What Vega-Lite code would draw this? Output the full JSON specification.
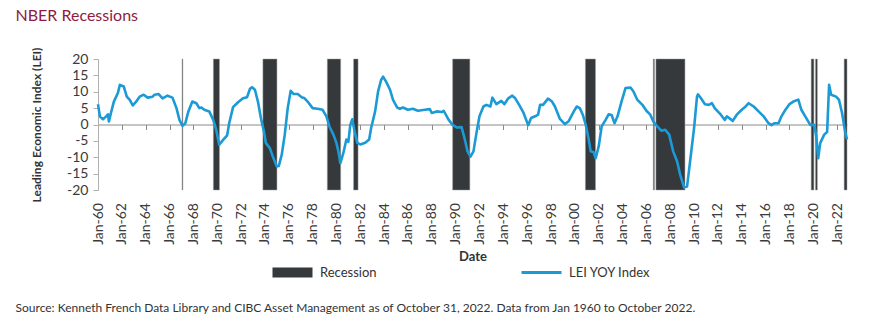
{
  "$schema": "https://vega.github.io/schema/vega-lite/v6.json",
  "padding": {"left": 15, "top": 8, "right": 5, "bottom": 8},
  "background": "white",
  "title": {"text": "Source: Kenneth French Data Library and CIBC Asset Management as of October 31, 2022. Data from Jan 1960 to October 2022.", "orient": "bottom", "anchor": "start", "frame": "bounds", "font": "Lato", "fontSize": 12, "fontWeight": "normal", "color": "#333333", "offset": 23},
  "datasets": {
    "lei": [
      {"date": "1960-01-01", "lei": 6.2}, {"date": "1960-03-01", "lei": 2.4}, {"date": "1960-06-01", "lei": 1.6}, {"date": "1960-09-01", "lei": 2.4}, {"date": "1960-11-01", "lei": 3.1}, {"date": "1960-12-01", "lei": 0.9},
      {"date": "1961-02-01", "lei": 3.5}, {"date": "1961-05-01", "lei": 7.0}, {"date": "1961-09-01", "lei": 9.6}, {"date": "1961-11-01", "lei": 12.1},
      {"date": "1962-03-01", "lei": 11.6}, {"date": "1962-06-01", "lei": 8.5}, {"date": "1962-09-01", "lei": 7.5}, {"date": "1962-12-01", "lei": 5.8},
      {"date": "1963-03-01", "lei": 6.8}, {"date": "1963-07-01", "lei": 8.5}, {"date": "1963-11-01", "lei": 9.1},
      {"date": "1964-03-01", "lei": 8.2}, {"date": "1964-08-01", "lei": 8.5}, {"date": "1964-10-01", "lei": 9.1},
      {"date": "1965-02-01", "lei": 9.3}, {"date": "1965-06-01", "lei": 8.0}, {"date": "1965-11-01", "lei": 8.8},
      {"date": "1966-04-01", "lei": 8.2}, {"date": "1966-08-01", "lei": 5.0}, {"date": "1966-11-01", "lei": 1.4},
      {"date": "1967-02-01", "lei": -0.4}, {"date": "1967-05-01", "lei": 0.4}, {"date": "1967-08-01", "lei": 4.0}, {"date": "1967-12-01", "lei": 7.0},
      {"date": "1968-04-01", "lei": 6.5}, {"date": "1968-07-01", "lei": 5.0}, {"date": "1968-09-01", "lei": 5.2}, {"date": "1968-12-01", "lei": 4.5},
      {"date": "1969-05-01", "lei": 4.0}, {"date": "1969-09-01", "lei": 1.4}, {"date": "1969-12-01", "lei": -1.6},
      {"date": "1970-03-01", "lei": -6.2}, {"date": "1970-07-01", "lei": -4.7}, {"date": "1970-11-01", "lei": -3.3},
      {"date": "1971-01-01", "lei": 0.3}, {"date": "1971-05-01", "lei": 5.3}, {"date": "1971-10-01", "lei": 6.8},
      {"date": "1972-03-01", "lei": 8.0}, {"date": "1972-07-01", "lei": 8.3}, {"date": "1972-10-01", "lei": 10.9}, {"date": "1972-12-01", "lei": 11.4},
      {"date": "1973-03-01", "lei": 10.6}, {"date": "1973-06-01", "lei": 7.0}, {"date": "1973-09-01", "lei": 1.9}, {"date": "1973-12-01", "lei": -2.1},
      {"date": "1974-02-01", "lei": -5.7}, {"date": "1974-06-01", "lei": -7.2}, {"date": "1974-09-01", "lei": -9.8},
      {"date": "1975-01-01", "lei": -12.8}, {"date": "1975-03-01", "lei": -12.7}, {"date": "1975-06-01", "lei": -9.2}, {"date": "1975-09-01", "lei": -3.1}, {"date": "1975-12-01", "lei": 5.0},
      {"date": "1976-03-01", "lei": 10.3}, {"date": "1976-06-01", "lei": 9.3}, {"date": "1976-10-01", "lei": 9.3},
      {"date": "1977-02-01", "lei": 8.3}, {"date": "1977-05-01", "lei": 8.0}, {"date": "1977-08-01", "lei": 7.0},
      {"date": "1978-01-01", "lei": 5.0}, {"date": "1978-06-01", "lei": 4.8}, {"date": "1978-11-01", "lei": 4.5},
      {"date": "1979-03-01", "lei": 2.5}, {"date": "1979-06-01", "lei": -0.6}, {"date": "1979-10-01", "lei": -3.1},
      {"date": "1980-01-01", "lei": -5.6}, {"date": "1980-03-01", "lei": -8.2}, {"date": "1980-05-01", "lei": -11.8}, {"date": "1980-08-01", "lei": -8.7}, {"date": "1980-11-01", "lei": -4.6},
      {"date": "1981-01-01", "lei": -5.3}, {"date": "1981-03-01", "lei": -0.1}, {"date": "1981-05-01", "lei": 1.6}, {"date": "1981-07-01", "lei": -1.6}, {"date": "1981-10-01", "lei": -5.6},
      {"date": "1982-01-01", "lei": -6.1}, {"date": "1982-06-01", "lei": -5.6}, {"date": "1982-10-01", "lei": -4.6}, {"date": "1982-12-01", "lei": -1.0},
      {"date": "1983-04-01", "lei": 4.0}, {"date": "1983-07-01", "lei": 10.1}, {"date": "1983-10-01", "lei": 13.6}, {"date": "1983-12-01", "lei": 14.6},
      {"date": "1984-03-01", "lei": 13.1}, {"date": "1984-07-01", "lei": 10.6}, {"date": "1984-10-01", "lei": 7.5},
      {"date": "1985-02-01", "lei": 5.2}, {"date": "1985-05-01", "lei": 4.8}, {"date": "1985-08-01", "lei": 5.2},
      {"date": "1986-01-01", "lei": 4.5}, {"date": "1986-06-01", "lei": 4.8}, {"date": "1986-11-01", "lei": 4.2},
      {"date": "1987-06-01", "lei": 4.5}, {"date": "1987-11-01", "lei": 4.7},
      {"date": "1988-01-01", "lei": 3.5}, {"date": "1988-06-01", "lei": 4.0}, {"date": "1988-11-01", "lei": 3.8},
      {"date": "1989-01-01", "lei": 4.2}, {"date": "1989-06-01", "lei": 1.4}, {"date": "1989-10-01", "lei": -0.1},
      {"date": "1990-02-01", "lei": -0.9}, {"date": "1990-07-01", "lei": -0.8}, {"date": "1990-10-01", "lei": -4.2},
      {"date": "1991-01-01", "lei": -8.2}, {"date": "1991-04-01", "lei": -9.8}, {"date": "1991-07-01", "lei": -8.2}, {"date": "1991-10-01", "lei": -2.6},
      {"date": "1992-01-01", "lei": 2.5}, {"date": "1992-05-01", "lei": 5.5}, {"date": "1992-08-01", "lei": 6.0}, {"date": "1992-12-01", "lei": 5.5},
      {"date": "1993-02-01", "lei": 8.2}, {"date": "1993-06-01", "lei": 6.2}, {"date": "1993-11-01", "lei": 7.2},
      {"date": "1994-02-01", "lei": 6.2}, {"date": "1994-06-01", "lei": 8.0}, {"date": "1994-10-01", "lei": 8.8},
      {"date": "1995-01-01", "lei": 8.0}, {"date": "1995-05-01", "lei": 6.0}, {"date": "1995-09-01", "lei": 3.8},
      {"date": "1996-02-01", "lei": -0.2}, {"date": "1996-05-01", "lei": 2.0}, {"date": "1996-09-01", "lei": 2.5}, {"date": "1996-12-01", "lei": 3.0},
      {"date": "1997-02-01", "lei": 6.0}, {"date": "1997-05-01", "lei": 6.0}, {"date": "1997-10-01", "lei": 7.9},
      {"date": "1998-02-01", "lei": 7.0}, {"date": "1998-05-01", "lei": 5.5}, {"date": "1998-10-01", "lei": 1.7},
      {"date": "1999-03-01", "lei": 0.1}, {"date": "1999-07-01", "lei": 1.1}, {"date": "1999-12-01", "lei": 4.0},
      {"date": "2000-03-01", "lei": 5.5}, {"date": "2000-06-01", "lei": 5.0}, {"date": "2000-09-01", "lei": 3.0}, {"date": "2000-12-01", "lei": -0.1},
      {"date": "2001-03-01", "lei": -4.6}, {"date": "2001-05-01", "lei": -8.2}, {"date": "2001-08-01", "lei": -8.5}, {"date": "2001-10-01", "lei": -10.3},
      {"date": "2002-01-01", "lei": -6.7}, {"date": "2002-04-01", "lei": -0.6}, {"date": "2002-08-01", "lei": 1.4}, {"date": "2002-11-01", "lei": 3.1},
      {"date": "2003-02-01", "lei": 2.9}, {"date": "2003-05-01", "lei": 0.4}, {"date": "2003-08-01", "lei": 2.5}, {"date": "2003-12-01", "lei": 7.0},
      {"date": "2004-04-01", "lei": 11.1}, {"date": "2004-09-01", "lei": 11.3}, {"date": "2004-12-01", "lei": 10.1},
      {"date": "2005-04-01", "lei": 7.5}, {"date": "2005-09-01", "lei": 6.0},
      {"date": "2006-01-01", "lei": 4.2}, {"date": "2006-05-01", "lei": 3.0}, {"date": "2006-08-01", "lei": 0.9}, {"date": "2006-12-01", "lei": -0.6},
      {"date": "2007-04-01", "lei": -1.9}, {"date": "2007-08-01", "lei": -1.6}, {"date": "2007-12-01", "lei": -3.1},
      {"date": "2008-04-01", "lei": -8.2}, {"date": "2008-08-01", "lei": -11.3}, {"date": "2008-11-01", "lei": -15.3},
      {"date": "2009-03-01", "lei": -19.2}, {"date": "2009-06-01", "lei": -18.9}, {"date": "2009-09-01", "lei": -11.3},
      {"date": "2010-01-01", "lei": -1.1}, {"date": "2010-04-01", "lei": 8.5}, {"date": "2010-05-01", "lei": 9.2}, {"date": "2010-08-01", "lei": 8.0}, {"date": "2010-12-01", "lei": 6.2},
      {"date": "2011-04-01", "lei": 6.0}, {"date": "2011-07-01", "lei": 6.5}, {"date": "2011-10-01", "lei": 4.9},
      {"date": "2012-04-01", "lei": 3.0}, {"date": "2012-08-01", "lei": 1.4}, {"date": "2012-10-01", "lei": 2.5},
      {"date": "2013-04-01", "lei": 1.1}, {"date": "2013-08-01", "lei": 3.0},
      {"date": "2014-01-01", "lei": 4.5}, {"date": "2014-05-01", "lei": 5.5}, {"date": "2014-08-01", "lei": 6.5},
      {"date": "2015-01-01", "lei": 5.5}, {"date": "2015-06-01", "lei": 4.0}, {"date": "2015-11-01", "lei": 2.5},
      {"date": "2016-04-01", "lei": 0.4}, {"date": "2016-07-01", "lei": -0.2}, {"date": "2016-10-01", "lei": 0.4},
      {"date": "2017-02-01", "lei": 0.4}, {"date": "2017-05-01", "lei": 2.5}, {"date": "2017-09-01", "lei": 4.5},
      {"date": "2018-01-01", "lei": 6.2}, {"date": "2018-05-01", "lei": 7.0}, {"date": "2018-10-01", "lei": 7.6},
      {"date": "2019-01-01", "lei": 4.5}, {"date": "2019-05-01", "lei": 2.5}, {"date": "2019-10-01", "lei": -0.1},
      {"date": "2020-02-01", "lei": -0.1}, {"date": "2020-04-01", "lei": -3.6}, {"date": "2020-06-01", "lei": -10.3}, {"date": "2020-08-01", "lei": -5.7}, {"date": "2020-12-01", "lei": -3.1},
      {"date": "2021-03-01", "lei": -2.3}, {"date": "2021-05-01", "lei": 12.1}, {"date": "2021-07-01", "lei": 9.1}, {"date": "2021-12-01", "lei": 8.5},
      {"date": "2022-03-01", "lei": 7.5}, {"date": "2022-06-01", "lei": 3.5}, {"date": "2022-09-01", "lei": -2.1}, {"date": "2022-10-31", "lei": -4.6}
    ],
    "rec": [
      {"start": "1967-01-20", "end": "1967-02-12"},
      {"start": "1969-09-05", "end": "1970-03-10"},
      {"start": "1973-11-01", "end": "1975-01-05"},
      {"start": "1979-03-28", "end": "1980-05-10"},
      {"start": "1981-06-10", "end": "1981-10-25"},
      {"start": "1989-10-01", "end": "1991-03-12"},
      {"start": "2000-11-20", "end": "2001-09-25"},
      {"start": "2006-08-01", "end": "2006-09-05"},
      {"start": "2006-10-20", "end": "2009-03-28"},
      {"start": "2019-10-30", "end": "2020-01-20"},
      {"start": "2020-03-10", "end": "2020-05-05"},
      {"start": "2022-08-05", "end": "2022-10-31"}
    ]
  },
  "vconcat": [
    {
      "title": {"text": "NBER Recessions", "anchor": "start", "frame": "bounds", "dx": -15, "font": "Lato", "fontSize": 16, "fontWeight": "normal", "color": "#8e1b41", "offset": 23},
      "width": 749,
      "height": 131,
      "layer": [
        {
          "data": {"name": "rec"},
          "mark": {"type": "rect", "stroke": "#9a9c9e", "strokeWidth": 0.5},
          "encoding": {
            "x": {
              "field": "start", "type": "temporal",
              "scale": {"type": "utc", "domain": [{"year": 1960, "month": 1, "date": 1, "utc": true}, {"year": 2022, "month": 10, "date": 31, "utc": true}], "nice": false},
              "axis": {
                "title": "Date", "format": "%b-%y", "labelAngle": -90,
                "tickCount": {"interval": "year", "step": 2},
                "offset": -65.5, "labelPadding": 73, "tickSize": 5,
                "domainColor": "#8a8a8a", "tickColor": "#8a8a8a", "grid": false,
                "labelFont": "Lato", "labelFontSize": 14, "labelColor": "#3a3a3a",
                "titleFont": "Lato", "titleFontSize": 13, "titleFontWeight": "bold", "titleColor": "#333333", "titlePadding": 6
              }
            },
            "x2": {"field": "end"},
            "y": {"datum": 20, "type": "quantitative"},
            "y2": {"datum": -20},
            "fill": {
              "datum": "Recession",
              "scale": {"domain": ["Recession"], "range": ["#36393c"]},
              "legend": {"title": null, "orient": "none", "legendX": 173, "legendY": 207, "padding": 0, "symbolType": "M-1,-1H7V1H-1Z", "symbolSize": 100, "symbolStrokeWidth": 0, "labelFont": "Lato", "labelFontSize": 13, "labelColor": "#333333", "labelOffset": 36}
            }
          }
        },
        {
          "data": {"name": "lei"},
          "mark": {"type": "line", "strokeWidth": 2.6, "strokeJoin": "round"},
          "encoding": {
            "x": {"field": "date", "type": "temporal"},
            "y": {
              "field": "lei", "type": "quantitative",
              "scale": {"domain": [-20, 20], "nice": false},
              "axis": {
                "title": "Leading Economic Index (LEI)", "values": [-20, -15, -10, -5, 0, 5, 10, 15, 20], "tickCount": 9,
                "labelExpr": "toString(datum.value)", "labelOverlap": false,
                "grid": false, "domain": true, "domainColor": "#b0b0b0", "tickColor": "#b0b0b0", "tickSize": 5, "labelPadding": 5,
                "labelFont": "Lato", "labelFontSize": 14, "labelColor": "#3a3a3a",
                "titleFont": "Lato", "titleFontSize": 12, "titleFontWeight": "bold", "titleColor": "#333333", "titlePadding": 23
              }
            },
            "stroke": {
              "datum": "LEI YOY Index",
              "scale": {"domain": ["LEI YOY Index"], "range": ["#1b9ad6"]},
              "legend": {"title": null, "orient": "none", "legendX": 422, "legendY": 207, "padding": 0, "symbolType": "M-1,0H7", "symbolSize": 100, "symbolStrokeWidth": 3, "labelFont": "Lato", "labelFontSize": 13, "labelColor": "#333333", "labelOffset": 36}
            }
          }
        }
      ]
    }
  ],
  "config": {"view": {"stroke": null}, "font": "Lato"}
}
